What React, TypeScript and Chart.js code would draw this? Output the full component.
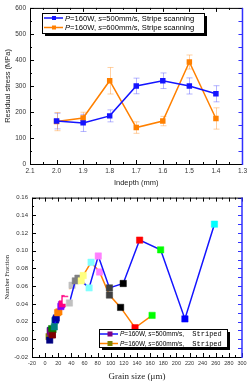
import React, { useEffect, useRef } from "react";
import { Chart, registerables } from "chart.js";
Chart.register(...registerables);

// ---------- Data: residual stress vs depth ----------
const depth = [2.0, 1.9, 1.8, 1.7, 1.6, 1.5, 1.4];
const stress500 = [165, 158, 185, 300, 320, 300, 270];
const err500 = [30, 33, 23, 30, 30, 31, 31];
const stress600 = [163, 177, 320, 140, 165, 392, 175];
const err600 = [35, 22, 51, 22, 18, 27, 41];

// ---------- Data: grain size distribution ----------
const grain500 = [7, 8, 11, 10, 14, 17, 19, 24, 26, 32, 37, 46, 55, 67, 81, 98, 119, 144, 176, 213, 258];
const frac500 = [-0.001, 0.009, 0.005, 0.012, 0.014, 0.024, 0.03, 0.037, 0.04, 0.044, 0.041, 0.066, 0.066, 0.058, 0.094, 0.058, 0.063, 0.112, 0.101, 0.023, 0.13];
const grain600 = [6, 8, 9, 11, 12, 15, 16, 21, 25, 30, 35, 41, 50, 58, 70, 83, 98, 115, 137, 163];
const frac600 = [0.003, 0.01, 0.007, 0.005, 0.011, 0.021, 0.022, 0.031, 0.039, 0.046, 0.053, 0.061, 0.069, 0.072, 0.087, 0.076, 0.05, 0.036, 0.013, 0.027];

const legendTop = ["=500mm/s, Stripe scanning", "=600mm/s, Stripe scanning"];
const legendBottom = ["=500mm/s,", "=600mm/s,"];

// Origin-style incremental color list used for the point markers
const PALETTE = ["#000000", "#FF0000", "#00FF00", "#0000FF", "#00FFFF", "#FF00FF", "#FFFF00", "#808000", "#000080", "#800080", "#800000", "#008000", "#008080", "#0000A0", "#FF8000", "#8000FF", "#FF0080", "#FFFFFF", "#C0C0C0", "#808080", "#FFFF80", "#80FFFF", "#FF80FF", "#404040"];
const paletteFrom = (start: number, n: number) => Array.from({ length: n }, (_, i) => PALETTE[(start + i) % PALETTE.length]);

const BLUE = "#1414FF";
const ORANGE = "#FF8000";
const SANS = "'Liberation Sans', Arial, sans-serif";
const SERIF = "'Liberation Serif', 'Times New Roman', serif";
const MONO = "'Liberation Mono', monospace";

type Spec = { xStep: number; xMinor: number; yStep: number; yMinor: number };

function framePlugin(spec: Spec) {
  return {
    id: "frameTicks",
    afterDraw(chart: any) {
      const { ctx, chartArea } = chart;
      const { left, right, top, bottom } = chartArea;
      const xs = chart.scales.x;
      const ys = chart.scales.y;
      ctx.save();
      ctx.lineWidth = 1;
      // x ticks (bottom & top), inward
      const xmin = Math.min(xs.min, xs.max);
      const xmax = Math.max(xs.min, xs.max);
      const nx = Math.round((xmax - xmin) / spec.xMinor);
      ctx.strokeStyle = "#000";
      ctx.beginPath();
      for (let i = 0; i <= nx; i++) {
        const v = xmin + i * spec.xMinor;
        const r = (v - xmin) / spec.xStep;
        const major = Math.abs(r - Math.round(r)) < 1e-6;
        const len = major ? 4 : 2;
        const px = Math.round(xs.getPixelForValue(v)) + 0.5;
        ctx.moveTo(px, bottom);
        ctx.lineTo(px, bottom - len);
        ctx.moveTo(px, top);
        ctx.lineTo(px, top + len);
      }
      const ny = Math.round((ys.max - ys.min) / spec.yMinor);
      for (let i = 0; i <= ny; i++) {
        const v = ys.min + i * spec.yMinor;
        const r = (v - ys.min) / spec.yStep;
        const major = Math.abs(r - Math.round(r)) < 1e-6;
        const len = major ? 4 : 2;
        const py = Math.round(ys.getPixelForValue(v)) + 0.5;
        ctx.moveTo(left, py);
        ctx.lineTo(left + len, py);
      }
      ctx.stroke();
      ctx.strokeStyle = "#3030FF";
      ctx.beginPath();
      for (let i = 0; i <= ny; i++) {
        const v = ys.min + i * spec.yMinor;
        const py = Math.round(ys.getPixelForValue(v)) + 0.5;
        ctx.moveTo(right, py);
        ctx.lineTo(right - 4, py);
      }
      ctx.stroke();
      // frame
      ctx.strokeStyle = "#000";
      ctx.beginPath();
      ctx.moveTo(right, top + 0.5);
      ctx.lineTo(left + 0.5, top + 0.5);
      ctx.lineTo(left + 0.5, bottom + 0.5);
      ctx.lineTo(right, bottom + 0.5);
      ctx.stroke();
      ctx.strokeStyle = "#3030FF";
      ctx.lineWidth = 1.5;
      ctx.beginPath();
      ctx.moveTo(right, top);
      ctx.lineTo(right, bottom + 1);
      ctx.stroke();
      ctx.restore();
    },
  };
}

const errorBarPlugin = {
  id: "errorBars",
  beforeDatasetsDraw(chart: any) {
    const { ctx } = chart;
    const xs = chart.scales.x;
    const ys = chart.scales.y;
    const sets = [
      { v: stress500, e: err500, c: "rgba(90,90,255,0.45)" },
      { v: stress600, e: err600, c: "rgba(255,150,50,0.45)" },
    ];
    ctx.save();
    ctx.lineWidth = 1;
    sets.forEach((s) => {
      ctx.strokeStyle = s.c;
      ctx.beginPath();
      s.v.forEach((val, i) => {
        const px = Math.round(xs.getPixelForValue(depth[i])) + 0.5;
        const y1 = ys.getPixelForValue(val + s.e[i]);
        const y2 = ys.getPixelForValue(val - s.e[i]);
        ctx.moveTo(px, y1);
        ctx.lineTo(px, y2);
        ctx.moveTo(px - 3, y1);
        ctx.lineTo(px + 3, y1);
        ctx.moveTo(px - 3, y2);
        ctx.lineTo(px + 3, y2);
      });
      ctx.stroke();
    });
    ctx.restore();
  },
};

type Part = { t: string; f: string };
type Row = { y: number; line: string; marker: string; parts: Part[] };

function legendPlugin(box: { x: number; y: number; w: number; h: number }, sx0: number, sx1: number, mx: number, ms: number, tx: number, rows: Row[]) {
  return {
    id: "customLegend",
    afterDraw(chart: any) {
      const { ctx } = chart;
      ctx.save();
      ctx.fillStyle = "#000";
      ctx.fillRect(box.x + 3, box.y + 3, box.w, box.h);
      ctx.fillStyle = "#fff";
      ctx.fillRect(box.x, box.y, box.w, box.h);
      ctx.strokeStyle = "#000";
      ctx.lineWidth = 1;
      ctx.strokeRect(box.x + 0.5, box.y + 0.5, box.w, box.h);
      rows.forEach((r) => {
        ctx.strokeStyle = r.line;
        ctx.lineWidth = 1.5;
        ctx.beginPath();
        ctx.moveTo(sx0, r.y);
        ctx.lineTo(sx1, r.y);
        ctx.stroke();
        ctx.fillStyle = r.marker;
        ctx.fillRect(mx - ms / 2, r.y - ms / 2, ms, ms);
        let x = tx;
        ctx.fillStyle = "#000";
        ctx.textBaseline = "middle";
        r.parts.forEach((p) => {
          ctx.font = p.f;
          ctx.fillText(p.t, x, r.y + 0.5);
          x += ctx.measureText(p.t).width;
        });
      });
      ctx.restore();
    },
  };
}

function StressChart() {
  const ref = useRef<HTMLCanvasElement>(null);
  useEffect(() => {
    const f = "7.6px " + SANS;
    const fi = "italic 7.6px " + SANS;
    const chart = new Chart(ref.current as HTMLCanvasElement, {
      type: "scatter",
      data: {
        datasets: [
          {
            label: "P=160W, s=500mm/s, Stripe scanning",
            data: depth.map((d, i) => ({ x: d, y: stress500[i] })),
            showLine: true,
            borderColor: BLUE,
            backgroundColor: BLUE,
            pointBorderColor: BLUE,
            borderWidth: 1.5,
            pointStyle: "rect",
            pointRadius: 2.8,
          },
          {
            label: "P=160W, s=600mm/s, Stripe scanning",
            data: depth.map((d, i) => ({ x: d, y: stress600[i] })),
            showLine: true,
            borderColor: ORANGE,
            backgroundColor: ORANGE,
            pointBorderColor: ORANGE,
            borderWidth: 1.5,
            pointStyle: "rect",
            pointRadius: 2.8,
          },
        ],
      },
      options: {
        responsive: false,
        animation: false,
        layout: { padding: { left: 0, right: 5, top: 5, bottom: 0 } },
        plugins: { legend: { display: false }, tooltip: { enabled: false } },
        scales: {
          x: {
            type: "linear",
            min: 1.3,
            max: 2.1,
            reverse: true,
            grid: { display: false, drawTicks: false },
            border: { display: false },
            ticks: { stepSize: 0.1, callback: (v: any) => Number(v).toFixed(1), font: { size: 6.5, family: SANS }, color: "#333", padding: 3, maxRotation: 0, autoSkip: false },
            title: { display: true, text: "Indepth (mm)", font: { size: 7.5, family: SANS }, color: "#222", padding: { top: 0, bottom: 3 } },
            afterFit: (s: any) => { s.height = 26; },
          },
          y: {
            min: 0,
            max: 600,
            grid: { display: false, drawTicks: false },
            border: { display: false },
            ticks: { stepSize: 100, font: { size: 6.5, family: SANS }, color: "#333", padding: 4 },
            title: { display: true, text: "Residual stress (MPa)", font: { size: 7.5, family: SANS }, color: "#222", padding: { top: 3, bottom: 0 } },
            afterFit: (s: any) => { s.width = 30; },
          },
        },
      },
      plugins: [
        errorBarPlugin,
        framePlugin({ xStep: 0.1, xMinor: 0.05, yStep: 100, yMinor: 50 }),
        legendPlugin({ x: 42, y: 13, w: 162, h: 20 }, 44, 63, 54, 4, 65, [
          { y: 18, line: BLUE, marker: BLUE, parts: [{ t: "P", f: fi }, { t: "=160W, ", f: f }, { t: "s", f: fi }, { t: legendTop[0], f: f }] },
          { y: 27.5, line: ORANGE, marker: ORANGE, parts: [{ t: "P", f: fi }, { t: "=160W, ", f: f }, { t: "s", f: fi }, { t: legendTop[1], f: f }] },
        ]),
      ],
    } as any);
    return () => chart.destroy();
  }, []);
  return <canvas ref={ref} width={250} height={190} style={{ display: "block" }} />;
}

function GrainChart() {
  const ref = useRef<HTMLCanvasElement>(null);
  useEffect(() => {
    const f = "6.5px " + SANS;
    const fi = "italic 6.5px " + SANS;
    const fm = "7px " + MONO;
    const c500 = paletteFrom(8, grain500.length);
    const c600 = paletteFrom(7, grain600.length);
    const chart = new Chart(ref.current as HTMLCanvasElement, {
      type: "scatter",
      data: {
        datasets: [
          {
            label: "P=160W, s=500mm/s, Striped",
            data: grain500.map((g, i) => ({ x: g, y: frac500[i] })),
            showLine: true,
            borderColor: BLUE,
            borderWidth: 1.5,
            pointBackgroundColor: c500,
            pointBorderColor: c500,
            pointBorderWidth: 0.5,
            pointStyle: "rect",
            pointRadius: 4.5,
          },
          {
            label: "P=160W, s=600mm/s, Striped",
            data: grain600.map((g, i) => ({ x: g, y: frac600[i] })),
            showLine: true,
            borderColor: ORANGE,
            borderWidth: 1.5,
            pointBackgroundColor: c600,
            pointBorderColor: c600,
            pointBorderWidth: 0.5,
            pointStyle: "rect",
            pointRadius: 4.5,
          },
        ],
      },
      options: {
        responsive: false,
        animation: false,
        layout: { padding: { left: 0, right: 8, top: 7, bottom: 0 } },
        plugins: { legend: { display: false }, tooltip: { enabled: false } },
        scales: {
          x: {
            type: "linear",
            min: -20,
            max: 300,
            grid: { display: false, drawTicks: false },
            border: { display: false },
            ticks: { stepSize: 20, font: { size: 5.5, family: SANS }, color: "#333", padding: 3, maxRotation: 0, autoSkip: false },
            title: { display: true, text: "Grain size (μm)", font: { size: 9, family: SERIF }, color: "#222", padding: { top: 0, bottom: 0 } },
            afterFit: (s: any) => { s.height = 25; },
          },
          y: {
            min: -0.02,
            max: 0.16,
            grid: { display: false, drawTicks: false },
            border: { display: false },
            ticks: { stepSize: 0.02, callback: (v: any) => Number(v).toFixed(2), font: { size: 6, family: SANS }, color: "#333", padding: 4 },
            title: { display: true, text: "Number Fraction", font: { size: 6.5, family: SERIF }, color: "#222", padding: { top: 3, bottom: 0 } },
            afterFit: (s: any) => { s.width = 32; },
          },
        },
      },
      plugins: [
        framePlugin({ xStep: 20, xMinor: 10, yStep: 0.02, yMinor: 0.01 }),
        legendPlugin({ x: 99, y: 139, w: 128, h: 18 }, 100, 118, 110, 5, 120, [
          { y: 144, line: BLUE, marker: "#800080", parts: [{ t: "P", f: fi }, { t: "=160W, ", f: f }, { t: "s", f: fi }, { t: legendBottom[0], f: f }, { t: "  Striped", f: fm }] },
          { y: 153.5, line: ORANGE, marker: "#808000", parts: [{ t: "P", f: fi }, { t: "=160W, ", f: f }, { t: "s", f: fi }, { t: legendBottom[1], f: f }, { t: "  Striped", f: fm }] },
        ]),
      ],
    } as any);
    return () => chart.destroy();
  }, []);
  return <canvas ref={ref} width={250} height={192} style={{ display: "block" }} />;
}

export default function App() {
  return (
    <div style={{ position: "absolute", left: 0, top: 0, width: 250, height: 382, background: "#fff" }}>
      <StressChart />
      <GrainChart />
    </div>
  );
}
